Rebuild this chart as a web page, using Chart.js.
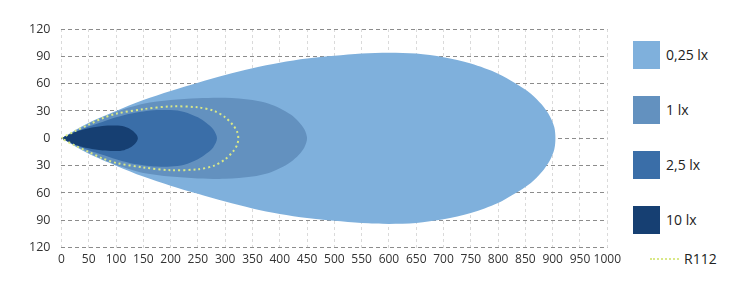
<!DOCTYPE html>
<html>
<head>
<meta charset="utf-8">
<script src="https://cdn.jsdelivr.net/npm/chart.js@4"></script>
<style>
  html, body { margin: 0; padding: 0; background: #fff; }
  #wrap { position: relative; width: 732px; height: 281px; }
  #chartBox { position: absolute; left: 0; top: 0; width: 626px; height: 281px; }
  #legend { position: absolute; left: 633px; top: 0; width: 99px; height: 281px;
            font-family: "Open Sans", sans-serif; font-size: 14px; color: #222; }
  .item { position: absolute; left: 0; height: 28px; line-height: 28px; white-space: nowrap; }
  .box { display: inline-block; width: 27px; height: 28px; vertical-align: top; margin-right: 6px; }
  .dash { position: absolute; left: 17px; top: 13px; width: 29px; border-top: 2px dotted #d9e887; }
</style>
</head>
<body>
<div id="wrap">
  <div id="chartBox"><canvas id="isolux"></canvas></div>
  <div id="legend"></div>
</div>
<script>
// legend labels and colours
var labels = ["0,25 lx", "1 lx", "2,5 lx", "10 lx", "R112"];
var colors = ["#7fb0dc", "#6391bf", "#3a6ea8", "#163f72", "#d9e887"];

// upper half of each isolux contour, [distance m, half width m]
var lx025 = [[0,0],[50,17],[100,30],[150,42],[200,52],[250,61],[300,69.5],[350,77],[400,83],[450,87.5],[500,90.5],[550,93],[600,94],[650,93],[700,89],[750,82],[800,71],[830,61],[860,49],[880,37],[895,24],[903,12],[905,0]];
var lx1 = [[0,0],[25,8],[50,16],[75,23],[100,29],[125,34],[150,38],[200,42],[250,44],[300,44.5],[350,42],[380,38],[400,33],[420,26],[435,18],[445,10],[450,0]];
var lx25 = [[0,0],[25,7],[50,13],[75,18],[100,23],[125,27],[150,29.5],[175,31],[200,31],[225,29],[250,23],[265,17],[278,10],[285,0]];
var lx10 = [[0,0],[10,3],[25,7],[50,11],[75,13.5],[100,14],[115,13],[125,10.5],[133,7],[138,3.5],[140,0]];
var r112 = [[0,0],[25,8],[50,15],[75,22],[100,27],[150,32],[200,35],[250,34],[280,30],[300,23],[315,14],[322,7],[324,0]];

var xTicks = [0, 1000, 50];
var yTicks = [-120, 120, 30];

// top half out, mirrored bottom half back -> closed contour
function contour(half) {
    var pts = half.map(function(p) { return {x: p[0], y: p[1]}; });
    for (var i = half.length - 2; i >= 0; i--) {
        pts.push({x: half[i][0], y: -half[i][1]});
    }
    return pts;
}

var shapes = [lx025, lx1, lx25, lx10];
var datasets = shapes.map(function(half, i) {
    return {
        label: labels[i],
        data: contour(half),
        showLine: true,
        fill: 'shape',
        backgroundColor: colors[i],
        borderColor: colors[i],
        borderWidth: 0,
        pointRadius: 0,
        tension: 0.3,
        order: 10 - i
    };
});
datasets.push({
    label: labels[4],
    data: contour(r112),
    showLine: true,
    fill: false,
    borderColor: colors[4],
    borderWidth: 2,
    borderDash: [2, 3],
    pointRadius: 0,
    tension: 0.3,
    order: 0
});

var chrt = document.getElementById("isolux").getContext("2d");
var chartId = new Chart(chrt, {
    type: 'scatter',
    data: { datasets: datasets },
    options: {
        responsive: true,
        maintainAspectRatio: false,
        animation: false,
        layout: { padding: { top: 29, right: 0, bottom: 9, left: 18 } },
        plugins: {
            legend: { display: false },
            tooltip: { enabled: false }
        },
        scales: {
            x: {
                type: 'linear',
                min: xTicks[0], max: xTicks[1],
                z: 1,
                border: { display: false, dash: [3, 3] },
                grid: { color: '#dadada', lineWidth: 1, drawTicks: false },
                ticks: { stepSize: xTicks[2], padding: 5, color: '#333',
                         maxRotation: 0, autoSkip: false,
                         font: { family: 'Open Sans', size: 12 },
                         callback: function(v) { return String(v); } }
            },
            y: {
                type: 'linear',
                min: yTicks[0], max: yTicks[1],
                z: 1,
                border: { display: false, dash: [4, 3] },
                grid: { color: '#8c8c8c', lineWidth: 1, drawTicks: false },
                ticks: { stepSize: yTicks[2], padding: 11, color: '#333',
                         font: { family: 'Open Sans', size: 12.5 },
                         callback: function(v) { return String(Math.abs(v)); } }
            }
        }
    }
});

// legend on the right
var legend = document.getElementById("legend");
var tops = [41, 96, 151, 206];
for (var i = 0; i < 4; i++) {
    var d = document.createElement("div");
    d.className = "item";
    d.style.top = tops[i] + "px";
    d.innerHTML = '<span class="box" style="background:' + colors[i] + '"></span>' + labels[i];
    legend.appendChild(d);
}
var r = document.createElement("div");
r.className = "item";
r.style.top = "245px";
r.style.left = "0px";
r.innerHTML = '<span class="dash"></span><span style="margin-left:51px">' + labels[4] + '</span>';
legend.appendChild(r);
</script>
</body>
</html>
